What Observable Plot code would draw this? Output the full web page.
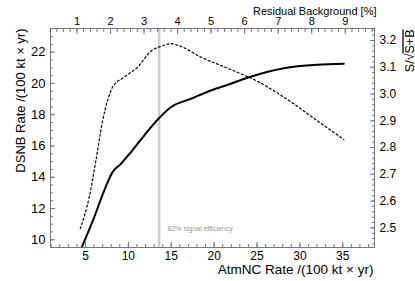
<!DOCTYPE html>
<html><head><meta charset="utf-8">
<script src="https://cdn.jsdelivr.net/npm/d3@7"></script>
<script src="https://cdn.jsdelivr.net/npm/@observablehq/plot@0.6"></script>
<style>body{margin:0;background:#fff}</style>
</head><body><div id="chart"></div>
<script>
// Solid line: DSNB rate vs AtmNC rate (left axis)
const atmncSolid = [4.55, 6.02, 7.18, 8.16, 9.13, 10.29, 11.84, 13.40, 14.95, 17.3, 19.6, 21.93, 24.06, 28.14, 32.03, 35.12];
const dsnbRate   = [9.5, 11.45, 13.15, 14.33, 14.86, 15.6, 16.67, 17.68, 18.48, 19.02, 19.55, 19.98, 20.4, 20.98, 21.2, 21.26];
// Dotted line: S/sqrt(S+B) vs AtmNC rate (right axis)
const atmncDotted  = [4.39, 5.44, 6.22, 7.0, 7.58, 8.16, 9.51, 11.07, 12.62, 13.78, 14.95, 16.11, 18.44, 20.77, 23.1, 24.26, 28.14, 32.03, 35.12];
const significance = [2.497, 2.615, 2.752, 2.90, 2.976, 3.026, 3.063, 3.10, 3.16, 3.178, 3.188, 3.178, 3.138, 3.107, 3.076, 3.06, 2.988, 2.90, 2.83];

const xTicks = [5, 10, 15, 20, 25, 30, 35];
const yTicks = [10, 12, 14, 16, 18, 20, 22];
const rTicks = [2.5, 2.6, 2.7, 2.8, 2.9, 3.0, 3.1, 3.2];
const topTicks = [1, 2, 3, 4, 5, 6, 7, 8, 9];
const cutX = [13.59];
const cutLabel = ["82% signal efficiency"];
const xTitle = "AtmNC Rate /(100 kt × yr)";
const yTitle = "DSNB Rate /(100 kt × yr)";
const topTitle = "Residual Background [%]";
const rTitle = "S/√S+B";

const xDomain = [0.92, 38.7];
const yDomain = [9.507, 23.516];
const rDomain = [2.4264, 3.2448];
const rToY = d3.scaleLinear(rDomain, yDomain);
const resToX = d3.scaleLinear([0, 1], [0.093, 4.004]);

const xMinor = d3.range(1, 39, 1);
const yMinor = d3.range(10, 23.6, 0.5);
const rMinor = d3.range(2.44, 3.245, 0.02);
const topMinor = d3.range(0.2, 9.9, 0.2);

const solid = atmncSolid.map((x, i) => ({x, y: dsnbRate[i]}));
const dotted = atmncDotted.map((x, i) => ({x, y: rToY(significance[i])}));

const axisGray = "#777";
const font = "'Liberation Sans', Arimo, Helvetica, Arial, sans-serif";

const chart = Plot.plot({
  width: 415, height: 281,
  marginLeft: 50, marginRight: 41, marginTop: 28, marginBottom: 34,
  style: {fontFamily: font, background: "#fff", color: "#000"},
  x: {domain: xDomain},
  y: {domain: yDomain},
  marks: [
    Plot.ruleX(cutX, {stroke: "#ccc", strokeWidth: 2.5}),
    Plot.text(cutLabel, {x: 14.56, y: 10.69, text: d => d, textAnchor: "start", fontSize: 7, fill: "#999"}),
    Plot.line(dotted, {x: "x", y: "y", stroke: "#000", strokeWidth: 1.2, strokeDasharray: "2,2.5", curve: "monotone-x", clip: true}),
    Plot.line(solid, {x: "x", y: "y", stroke: "#000", strokeWidth: 2, curve: "monotone-x", clip: true}),
    Plot.frame({stroke: axisGray}),
    // left axis
    Plot.axisY(yMinor, {anchor: "left", tickSize: -3, stroke: axisGray, fill: "none", label: null}),
    Plot.axisY(yTicks, {anchor: "left", tickSize: -5, tickPadding: 10, stroke: axisGray, fill: "#000", fontSize: 13, label: null}),
    // right axis
    Plot.axisY(rMinor.map(r => rToY(r)), {anchor: "right", tickSize: -3, stroke: axisGray, fill: "none", label: null}),
    Plot.axisY(rTicks.map(r => rToY(r)), {anchor: "right", tickSize: -5, tickPadding: 10, stroke: axisGray, fill: "#000", fontSize: 12, label: null,
      tickFormat: d => rToY.invert(d).toFixed(1)}),
    // bottom axis
    Plot.axisX(xMinor, {anchor: "bottom", tickSize: -3, stroke: axisGray, fill: "none", label: null}),
    Plot.axisX(xTicks, {anchor: "bottom", tickSize: -5, tickPadding: 9, stroke: axisGray, fill: "#000", fontSize: 12, label: null}),
    // top axis
    Plot.axisX(topMinor.map(r => resToX(r)), {anchor: "top", tickSize: -3, stroke: axisGray, fill: "none", label: null}),
    Plot.axisX(topTicks.map(r => resToX(r)), {anchor: "top", tickSize: -5, tickPadding: 9, stroke: axisGray, fill: "#000", fontSize: 11, label: null,
      tickFormat: d => String(Math.round(resToX.invert(d)))}),
    // titles
    Plot.text([xTitle], {frameAnchor: "bottom-right", text: d => d, dx: -1, dy: 26, textAnchor: "end", fontSize: 13.5, fill: "#000"}),
    Plot.text([topTitle], {frameAnchor: "top-right", text: d => d, dx: 2, dy: -21, textAnchor: "end", fontSize: 11, fill: "#000"}),
    Plot.text([yTitle], {frameAnchor: "top-left", text: d => d, dx: -35, dy: 0, rotate: -90, textAnchor: "end", fontSize: 13, fill: "#000"}),
    Plot.text([rTitle], {frameAnchor: "top-right", text: d => d, dx: 31, dy: 1, rotate: -90, textAnchor: "end", fontSize: 12.5, fill: "#000"})
  ]
});
document.getElementById("chart").appendChild(chart);

// overline on the radicand of S/√(S+B)
d3.select(chart).selectAll("text").each(function() {
  const t = d3.select(this);
  if (t.text() === rTitle) {
    t.text("");
    t.append("tspan").text("S/√");
    t.append("tspan").attr("text-decoration", "overline").style("text-decoration", "overline").text("S+B");
  }
});
</script>
</body></html>
